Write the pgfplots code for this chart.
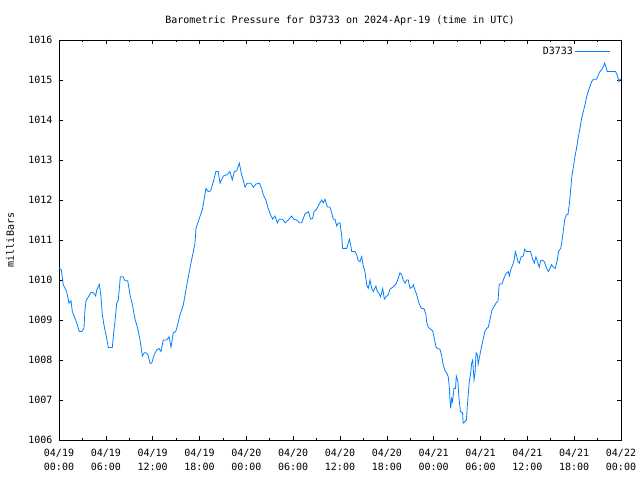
\documentclass[border=0pt]{standalone}
\usepackage{fontspec}
\setmainfont{DejaVu Sans Mono}
\usepackage{pgfplots}
\pgfplotsset{compat=1.18}
\definecolor{gpblue}{RGB}{0,128,255}
\newcommand{\gpf}{\fontsize{10bp}{14bp}\selectfont}
\begin{document}
\begin{tikzpicture}
\path[use as bounding box] (-59bp,-40bp) rectangle (581bp,440bp);
\begin{axis}[
  at={(0,0)}, anchor=south west,
  scale only axis, width=562bp, height=400bp,
  xmin=0, xmax=72, ymin=1006, ymax=1016,
  xtick={0,6,...,72},
  minor xtick={3,9,...,69},
  ytick={1006,1007,...,1016},
  yticklabels={1006,1007,1008,1009,1010,1011,1012,1013,1014,1015,1016},
  xticklabels={04/19\\00:00,04/19\\06:00,04/19\\12:00,04/19\\18:00,04/20\\00:00,04/20\\06:00,04/20\\12:00,04/20\\18:00,04/21\\00:00,04/21\\06:00,04/21\\12:00,04/21\\18:00,04/22\\00:00},
  tick align=inside,
  major tick length=4bp, minor tick length=2bp,
  tick style={black, line width=0.6bp},
  axis line style={black, line width=0.8bp},
  xticklabel style={align=center, font=\gpf, yshift=-6bp},
  yticklabel style={font=\gpf, xshift=-3bp},
  title={Barometric Pressure for D3733 on 2024-Apr-19 (time in UTC)},
  title style={font=\gpf, at={(axis description cs:0.5,1)}, anchor=south, yshift=5bp},
  ylabel={milliBars},
  every axis y label/.style={at={(axis description cs:0,0.5)}, xshift=-49bp, rotate=90, anchor=center, font=\gpf},
  legend plot pos=right,
  legend image code/.code={\path (0bp,0bp) -- (7bp,0bp); \draw[#1] (7bp,0bp) -- (35bp,0bp);},
  legend style={draw=none, fill=none, font=\gpf, at={(axis description cs:1,1)}, anchor=north east, xshift=-10bp, yshift=-5bp, inner sep=0pt, cells={anchor=east}},
]
\addplot[gpblue, line width=0.8bp] table {
h p
0 1010.30
0.3 1010.25
0.55 1009.88
0.98 1009.71
1.28 1009.42
1.54 1009.48
1.71 1009.21
2.05 1009.04
2.35 1008.88
2.6 1008.71
2.9 1008.71
3.2 1008.79
3.33 1009.25
3.46 1009.48
3.76 1009.58
4.1 1009.69
4.44 1009.68
4.7 1009.60
4.83 1009.75
5.17 1009.89
5.38 1009.58
5.55 1009.13
5.8 1008.83
6.02 1008.63
6.32 1008.31
6.83 1008.31
7.0 1008.67
7.17 1008.96
7.39 1009.42
7.6 1009.50
7.86 1010.08
8.2 1010.08
8.46 1009.98
8.8 1009.98
9.1 1009.63
9.4 1009.38
9.74 1009.02
10.08 1008.79
10.38 1008.50
10.68 1008.10
10.93 1008.18
11.1 1008.18
11.36 1008.15
11.66 1007.92
11.87 1007.92
12.2 1008.13
12.5 1008.25
12.8 1008.29
13.07 1008.21
13.36 1008.50
13.8 1008.50
14.1 1008.58
14.35 1008.32
14.64 1008.68
14.95 1008.71
15.2 1008.88
15.5 1009.13
15.93 1009.38
16.23 1009.71
16.57 1010.08
16.9 1010.42
17.2 1010.70
17.42 1010.92
17.55 1011.29
17.98 1011.54
18.4 1011.79
18.83 1012.29
19.13 1012.21
19.43 1012.23
19.77 1012.46
20.1 1012.71
20.4 1012.71
20.63 1012.42
21.05 1012.60
21.5 1012.63
21.9 1012.71
22.2 1012.50
22.46 1012.71
22.76 1012.73
23.1 1012.92
23.4 1012.63
23.6 1012.50
23.83 1012.32
24.1 1012.42
24.56 1012.42
24.9 1012.32
25.24 1012.40
25.66 1012.42
25.97 1012.29
26.17 1012.13
26.5 1012.00
26.8 1011.79
27.1 1011.63
27.38 1011.52
27.67 1011.60
27.97 1011.43
28.2 1011.52
28.66 1011.52
28.95 1011.43
29.37 1011.50
29.8 1011.60
30.1 1011.52
30.45 1011.50
30.8 1011.43
31.1 1011.43
31.5 1011.65
31.94 1011.71
32.24 1011.52
32.5 1011.54
32.67 1011.71
33.0 1011.77
33.35 1011.90
33.65 1012.00
33.86 1011.93
34.08 1012.02
34.37 1011.83
34.72 1011.82
34.94 1011.67
35.14 1011.52
35.36 1011.52
35.58 1011.35
35.78 1011.42
36.0 1011.43
36.2 1011.13
36.34 1010.79
36.86 1010.79
37.06 1010.92
37.2 1011.02
37.37 1010.88
37.5 1010.71
37.92 1010.71
38.14 1010.63
38.34 1010.48
38.56 1010.46
38.78 1010.58
38.98 1010.35
39.2 1010.21
39.42 1009.88
39.62 1009.79
39.84 1010.00
40.06 1009.79
40.26 1009.71
40.6 1009.85
40.78 1009.71
41.0 1009.67
41.2 1009.58
41.47 1009.79
41.68 1009.52
41.9 1009.58
42.19 1009.63
42.4 1009.77
42.83 1009.83
43.17 1009.90
43.47 1010.04
43.68 1010.18
43.9 1010.13
44.1 1010.00
44.33 1009.92
44.54 1010.00
44.75 1010.00
44.96 1009.79
45.3 1009.83
45.4 1009.88
45.6 1009.75
45.8 1009.65
46.0 1009.50
46.25 1009.35
46.46 1009.29
46.76 1009.28
47.0 1009.15
47.1 1008.96
47.3 1008.82
47.62 1008.77
47.87 1008.73
48.04 1008.58
48.3 1008.33
48.46 1008.29
48.8 1008.27
49.0 1008.13
49.23 1007.88
49.45 1007.73
49.67 1007.68
49.87 1007.58
50.0 1007.33
50.09 1007.00
50.18 1006.79
50.3 1007.04
50.42 1006.96
50.6 1007.29
50.8 1007.29
50.9 1007.60
51.1 1007.46
51.25 1007.04
51.43 1006.71
51.7 1006.68
51.78 1006.42
52.0 1006.46
52.2 1006.50
52.3 1006.83
52.43 1007.13
52.56 1007.46
52.74 1007.67
52.87 1007.92
53.0 1008.00
53.17 1007.50
53.3 1007.67
53.43 1008.18
53.6 1008.13
53.7 1007.90
53.93 1008.13
54.12 1008.33
54.33 1008.50
54.55 1008.71
54.79 1008.79
55.0 1008.82
55.2 1009.00
55.47 1009.25
55.72 1009.33
55.98 1009.42
56.24 1009.48
56.4 1009.90
56.75 1009.90
57.0 1010.04
57.27 1010.17
57.56 1010.21
57.69 1010.10
57.86 1010.25
58.12 1010.38
58.29 1010.48
58.46 1010.71
58.63 1010.60
58.8 1010.46
58.97 1010.42
59.2 1010.58
59.48 1010.60
59.66 1010.77
59.9 1010.71
60.4 1010.71
60.68 1010.52
60.9 1010.42
61.1 1010.58
61.3 1010.46
61.53 1010.32
61.7 1010.48
61.88 1010.50
62.17 1010.46
62.4 1010.33
62.68 1010.21
62.9 1010.29
63.1 1010.38
63.3 1010.33
63.58 1010.29
63.84 1010.50
64.0 1010.71
64.27 1010.79
64.4 1010.92
64.6 1011.21
64.78 1011.50
65.0 1011.63
65.2 1011.63
65.37 1011.88
65.55 1012.25
65.7 1012.58
65.9 1012.83
66.1 1013.08
66.3 1013.29
66.5 1013.54
66.74 1013.79
66.96 1014.04
67.17 1014.21
67.38 1014.38
67.6 1014.58
67.8 1014.71
68.0 1014.83
68.24 1014.96
68.45 1015.02
68.88 1015.02
69.1 1015.13
69.3 1015.21
69.5 1015.25
69.73 1015.33
69.9 1015.42
70.07 1015.33
70.24 1015.21
71.1 1015.21
71.3 1015.21
71.5 1015.13
71.74 1014.96
71.87 1015.02
72.0 1015.00
};
\addlegendentry{D3733}
\end{axis}
\end{tikzpicture}
\end{document}
